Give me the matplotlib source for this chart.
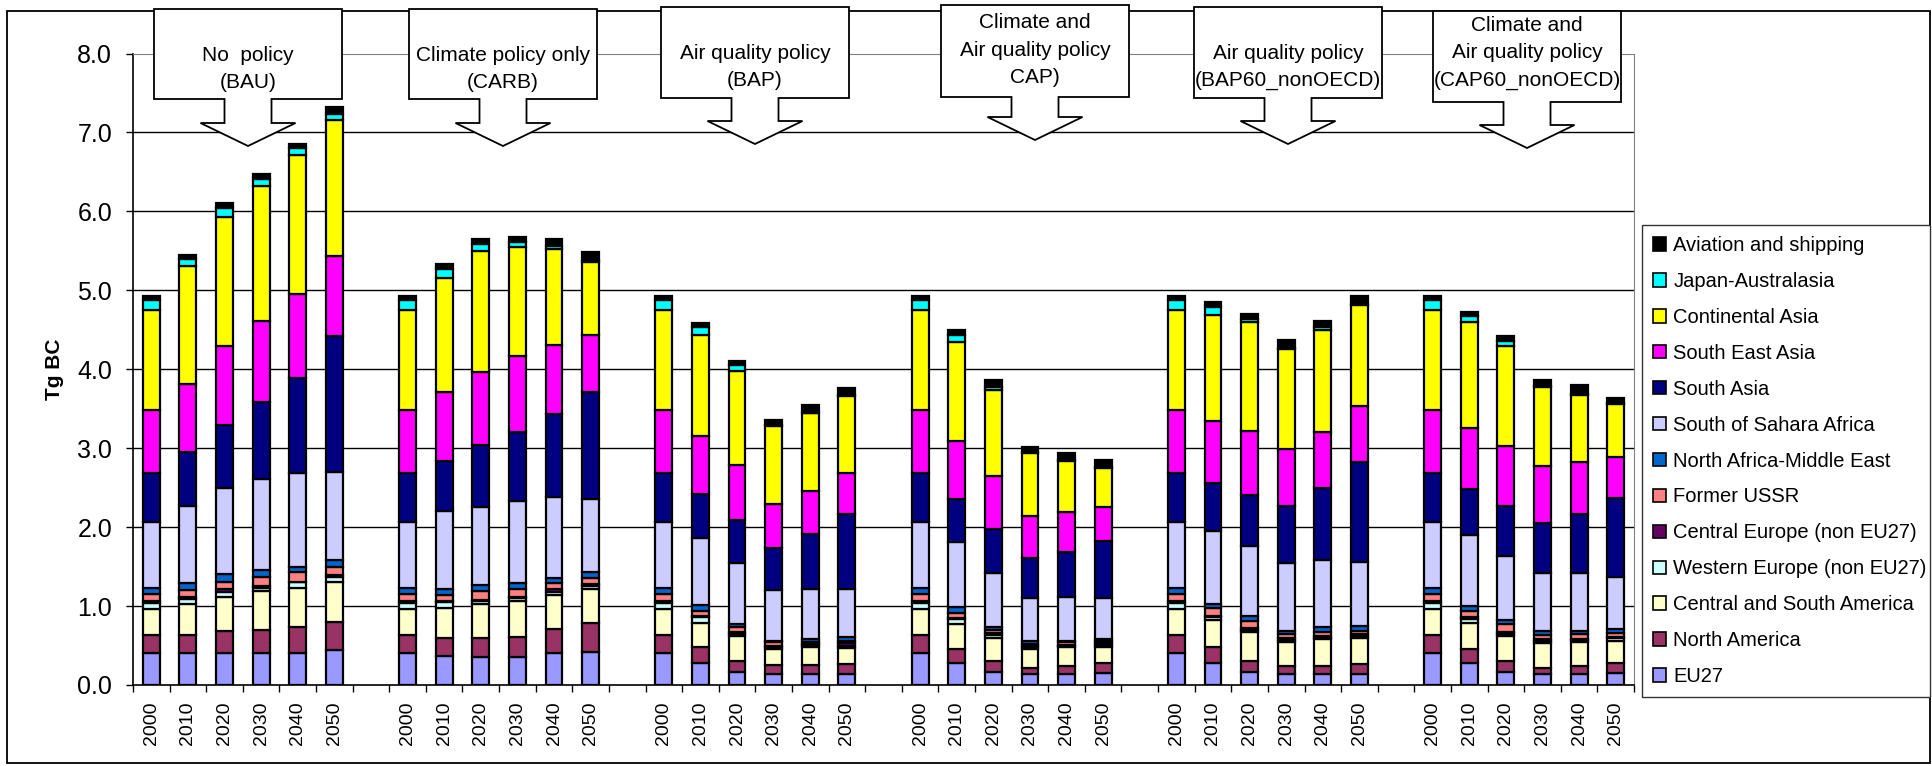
import numpy as np
import matplotlib
matplotlib.use("Agg")
import matplotlib.pyplot as plt
from matplotlib.patches import Polygon, Rectangle, Patch

plt.rcParams['font.family'] = ['Liberation Sans', 'DejaVu Sans']

# BC emissions (Tg) per region; 6 scenarios x 6 years
years = ["2000", "2010", "2020", "2030", "2040", "2050"]
scenarios = ["BAU", "CARB", "BAP", "CAP", "BAP60_nonOECD", "CAP60_nonOECD"]
box_texts = ["No  policy\n(BAU)",
             "Climate policy only\n(CARB)",
             "Air quality policy\n(BAP)",
             "Climate and\nAir quality policy\nCAP)",
             "Air quality policy\n(BAP60_nonOECD)",
             "Climate and\nAir quality policy\n(CAP60_nonOECD)"]

eu27 = [0.41, 0.41, 0.41, 0.41, 0.41, 0.44,
        0.41, 0.37, 0.35, 0.35, 0.40, 0.42,
        0.41, 0.28, 0.16, 0.14, 0.14, 0.14,
        0.41, 0.28, 0.16, 0.14, 0.14, 0.15,
        0.41, 0.28, 0.16, 0.14, 0.14, 0.14,
        0.41, 0.28, 0.16, 0.14, 0.14, 0.15]
north_america = [0.22, 0.22, 0.27, 0.29, 0.32, 0.36,
                 0.22, 0.22, 0.24, 0.26, 0.31, 0.37,
                 0.22, 0.20, 0.15, 0.11, 0.11, 0.12,
                 0.22, 0.18, 0.15, 0.07, 0.10, 0.13,
                 0.22, 0.20, 0.15, 0.10, 0.10, 0.12,
                 0.22, 0.18, 0.15, 0.07, 0.10, 0.13]
c_s_america = [0.33, 0.39, 0.43, 0.49, 0.50, 0.50,
               0.33, 0.38, 0.44, 0.46, 0.43, 0.43,
               0.33, 0.31, 0.31, 0.20, 0.23, 0.21,
               0.33, 0.31, 0.29, 0.24, 0.24, 0.20,
               0.33, 0.34, 0.36, 0.31, 0.34, 0.34,
               0.33, 0.33, 0.31, 0.32, 0.31, 0.28]
w_europe = [0.08, 0.07, 0.07, 0.04, 0.07, 0.07,
            0.08, 0.08, 0.03, 0.03, 0.04, 0.04,
            0.08, 0.07, 0.03, 0.03, 0.03, 0.03,
            0.08, 0.06, 0.03, 0.03, 0.02, 0.03,
            0.08, 0.04, 0.03, 0.02, 0.02, 0.02,
            0.08, 0.04, 0.03, 0.025, 0.02, 0.03]
c_europe = [0.03, 0.02, 0.03, 0.03, 0.01, 0.02,
            0.03, 0.01, 0.02, 0.02, 0.04, 0.02,
            0.03, 0.01, 0.02, 0.02, 0.01, 0.03,
            0.03, 0.02, 0.03, 0.01, 0.01, 0.02,
            0.03, 0.02, 0.02, 0.03, 0.02, 0.02,
            0.03, 0.03, 0.02, 0.025, 0.01, 0.02]
former_ussr = [0.085, 0.09, 0.10, 0.11, 0.12, 0.11,
               0.085, 0.08, 0.11, 0.10, 0.07, 0.07,
               0.085, 0.07, 0.07, 0.04, 0.03, 0.03,
               0.085, 0.06, 0.04, 0.03, 0.03, 0.025,
               0.085, 0.09, 0.09, 0.04, 0.05, 0.05,
               0.085, 0.08, 0.10, 0.05, 0.06, 0.05]
n_africa_me = [0.075, 0.09, 0.10, 0.09, 0.07, 0.08,
               0.075, 0.08, 0.08, 0.07, 0.07, 0.08,
               0.075, 0.07, 0.03, 0.02, 0.03, 0.05,
               0.075, 0.08, 0.04, 0.035, 0.02, 0.03,
               0.075, 0.06, 0.06, 0.05, 0.06, 0.06,
               0.075, 0.06, 0.05, 0.05, 0.04, 0.05]
ss_africa = [0.83, 0.98, 1.08, 1.15, 1.18, 1.12,
             0.83, 0.99, 0.98, 1.04, 1.02, 0.93,
             0.83, 0.85, 0.77, 0.64, 0.64, 0.61,
             0.83, 0.82, 0.68, 0.545, 0.56, 0.515,
             0.83, 0.92, 0.89, 0.85, 0.85, 0.81,
             0.83, 0.90, 0.82, 0.74, 0.74, 0.66]
south_asia = [0.62, 0.68, 0.80, 0.97, 1.21, 1.72,
              0.62, 0.63, 0.79, 0.88, 1.05, 1.35,
              0.62, 0.56, 0.55, 0.53, 0.69, 0.95,
              0.62, 0.55, 0.55, 0.51, 0.57, 0.73,
              0.62, 0.61, 0.65, 0.73, 0.91, 1.26,
              0.62, 0.58, 0.63, 0.63, 0.75, 1.00]
se_asia = [0.80, 0.86, 1.01, 1.03, 1.06, 1.01,
           0.80, 0.87, 0.93, 0.96, 0.88, 0.73,
           0.80, 0.74, 0.70, 0.56, 0.55, 0.52,
           0.80, 0.73, 0.68, 0.53, 0.50, 0.42,
           0.80, 0.79, 0.81, 0.72, 0.72, 0.72,
           0.80, 0.77, 0.76, 0.73, 0.65, 0.52]
cont_asia = [1.27, 1.50, 1.63, 1.71, 1.76, 1.73,
             1.27, 1.45, 1.53, 1.38, 1.21, 0.92,
             1.27, 1.28, 1.19, 0.99, 0.98, 0.97,
             1.27, 1.25, 1.09, 0.80, 0.65, 0.50,
             1.27, 1.34, 1.38, 1.27, 1.29, 1.28,
             1.27, 1.35, 1.26, 1.00, 0.86, 0.67]
japan_austr = [0.13, 0.09, 0.11, 0.09, 0.09, 0.07,
               0.13, 0.11, 0.09, 0.06, 0.04, 0.03,
               0.13, 0.09, 0.07, 0.01, 0.01, 0.01,
               0.13, 0.10, 0.04, 0.01, 0.01, 0.01,
               0.13, 0.10, 0.04, 0.01, 0.04, 0.01,
               0.13, 0.07, 0.07, 0.01, 0.01, 0.01]
aviation = [0.05, 0.05, 0.07, 0.06, 0.05, 0.09,
            0.05, 0.06, 0.06, 0.06, 0.09, 0.09,
            0.05, 0.06, 0.05, 0.07, 0.10, 0.09,
            0.05, 0.06, 0.08, 0.07, 0.09, 0.09,
            0.05, 0.06, 0.06, 0.10, 0.07, 0.10,
            0.05, 0.06, 0.06, 0.07, 0.11, 0.07]

regions = [
    ("EU27", eu27, "#9999FF"),
    ("North America", north_america, "#993366"),
    ("Central and South America", c_s_america, "#FFFFCC"),
    ("Western Europe (non EU27)", w_europe, "#CCFFFF"),
    ("Central Europe (non EU27)", c_europe, "#660066"),
    ("Former USSR", former_ussr, "#FF8080"),
    ("North Africa-Middle East", n_africa_me, "#0066CC"),
    ("South of Sahara Africa", ss_africa, "#CCCCFF"),
    ("South Asia", south_asia, "#000080"),
    ("South East Asia", se_asia, "#FF00FF"),
    ("Continental Asia", cont_asia, "#FFFF00"),
    ("Japan-Australasia", japan_austr, "#00FFFF"),
    ("Aviation and shipping", aviation, "#000000"),
]

W, H = 1933, 766
fig = plt.figure(figsize=(W / 100, H / 100), dpi=100)
ax = fig.add_axes([133 / W, 1 - 685 / H, 1501 / W, 631.5 / H])

# one empty slot between scenario groups
pos = np.array([g * 7 + i for g in range(len(scenarios)) for i in range(len(years))])

bottom = np.zeros(len(pos))
handles = []
for name, vals, col in regions:
    ax.bar(pos, vals, width=0.46, bottom=bottom, color=col,
           edgecolor="black", linewidth=1.6, zorder=3)
    bottom += np.array(vals)
    handles.append(Patch(facecolor=col, edgecolor="black", linewidth=1.2, label=name))

ax.set_xlim(-0.5, 40.5)
ax.set_ylim(0, 8)
ax.set_yticks(np.arange(0, 9))
ax.set_yticklabels([f"{v:.1f}" for v in range(9)], fontsize=18)
ax.set_xticks(pos)
ax.set_xticklabels(years * len(scenarios), rotation=90, fontsize=14)
ax.set_xticks(np.arange(-0.5, 41, 1), minor=True)
ax.tick_params(axis="x", which="major", length=0, pad=12)
ax.tick_params(axis="x", which="minor", length=5, width=1, direction="out")
ax.tick_params(axis="y", length=5, width=1, direction="out", pad=10)

for y in range(1, 8):
    ax.axhline(y, color="black", linewidth=1, zorder=1)
for s in ["top", "right"]:
    ax.spines[s].set_color("#808080")
for s in ["left", "bottom"]:
    ax.spines[s].set_color("black")
    ax.spines[s].set_linewidth(1.2)

ax.set_ylabel("Tg BC", fontsize=15, fontweight="bold")
ax.yaxis.set_label_coords(-0.046, 0.5)

# legend, top entry = top of stack
leg = fig.legend(handles=handles[::-1], loc="upper left",
                 bbox_to_anchor=(1642 / W, 0.1, 288 / W, 1 - 225 / H - 0.1),
                 mode="expand", fontsize=14.5, labelspacing=0.84,
                 handlelength=0.65, handleheight=0.65, handletextpad=0.35,
                 borderpad=0.55, borderaxespad=0, fancybox=False,
                 framealpha=1, edgecolor="#333333")
leg.get_frame().set_linewidth(1.0)

# overlay in pixel coordinates for the scenario callouts and the outer frame
ov = fig.add_axes([0, 0, 1, 1], zorder=5)
ov.set_xlim(0, W)
ov.set_ylim(H, 0)
ov.axis("off")
ov.patch.set_alpha(0)

ov.add_patch(Rectangle((7, 11), 1923, 752, fill=False, edgecolor="black", linewidth=1.3))

centers = [248, 503, 755, 1035, 1288, 1527]
tops = [9, 9, 7, 5, 7, 11]
bottoms = [99, 99, 98, 97, 98, 102]
tips = [146, 146, 144, 140, 144, 148]
text_y = [69, 69, 67, 50, 67, 53]

for cx, t, b, tip, ty, txt in zip(centers, tops, bottoms, tips, text_y, box_texts):
    hw, sw, aw = 94, 23.5, 47.5
    head = tip - 23
    pts = [(cx - hw, t), (cx + hw, t), (cx + hw, b), (cx + sw, b), (cx + sw, head),
           (cx + aw, head), (cx, tip), (cx - aw, head), (cx - sw, head),
           (cx - sw, b), (cx - hw, b)]
    ov.add_patch(Polygon(pts, closed=True, facecolor="white", edgecolor="black",
                         linewidth=1.3))
    ov.text(cx, ty, txt, ha="center", va="center", fontsize=15, linespacing=1.55)

fig.savefig("out.png", dpi=100)
